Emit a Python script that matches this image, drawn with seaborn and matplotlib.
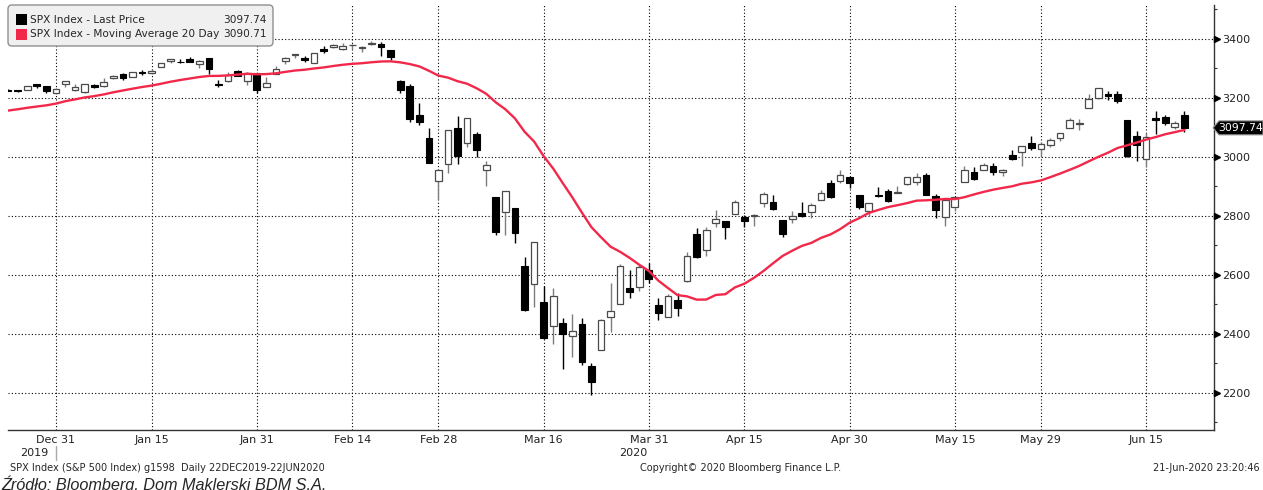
import numpy as np
import pandas as pd
import matplotlib
matplotlib.use("Agg")
import matplotlib.pyplot as plt
import seaborn as sns
from matplotlib.patches import FancyBboxPatch, Polygon, Rectangle
from matplotlib.lines import Line2D
from matplotlib.transforms import Affine2D, offset_copy

# SPX daily candles, 23 Dec 2019 - 19 Jun 2020 (trading days)
opens = [3226.05, 3225.45, 3227.20, 3247.23, 3240.09, 3215.18,
         3244.67, 3226.36, 3217.55, 3241.86, 3238.59, 3266.03, 3280.47, 3271.13, 3285.35, 3282.27, 3302.97,
         3323.66, 3321.03, 3330.02, 3315.77, 3333.10, 3247.16, 3255.35, 3289.46, 3256.45, 3282.33,
         3235.66, 3280.61, 3324.91, 3344.92, 3335.54, 3318.28, 3365.87, 3370.50, 3365.90, 3378.08,
         3369.04, 3380.39, 3380.45, 3360.50, 3257.61, 3238.94, 3139.90, 3062.54, 2916.90,
         2974.28, 3096.46, 3045.75, 3075.70, 2954.20, 2863.89, 2813.48, 2825.60, 2630.86, 2569.99, 2508.59,
         2425.66, 2436.50, 2393.48, 2431.94, 2290.71, 2344.44, 2457.77, 2501.29, 2555.87, 2558.98, 2614.69,
         2498.08, 2458.54, 2514.92, 2578.28, 2738.65, 2685.00, 2776.99, 2782.46, 2805.10, 2795.64, 2799.34,
         2842.43, 2845.62, 2784.81, 2787.89, 2810.42, 2812.64, 2854.65, 2909.96, 2918.46, 2930.91,
         2869.09, 2815.01, 2868.88, 2883.14, 2878.26, 2908.83, 2915.46, 2939.50, 2865.86, 2794.54, 2829.95,
         2913.86, 2948.59, 2953.63, 2969.95, 2948.05, 3004.08, 3015.65, 3046.61, 3025.17,
         3038.78, 3064.78, 3098.90, 3111.56, 3163.84, 3199.92, 3213.32, 3213.42, 3123.53, 3071.04, 2993.76,
         3131.00, 3136.13, 3101.64, 3140.29]
highs = [3227.78, 3226.43, 3240.08, 3247.93, 3240.92, 3231.72,
         3258.14, 3246.15, 3246.84, 3244.91, 3267.07, 3275.58, 3282.99, 3288.13, 3294.25, 3298.66, 3317.11,
         3329.88, 3329.79, 3337.77, 3326.88, 3333.18, 3258.85, 3285.78, 3293.47, 3285.91, 3282.33,
         3268.44, 3306.92, 3337.58, 3347.96, 3341.42, 3352.26, 3375.63, 3381.47, 3385.09, 3380.69,
         3375.01, 3393.52, 3389.15, 3360.76, 3259.81, 3246.99, 3182.51, 3097.07, 2959.72,
         3090.96, 3136.72, 3130.97, 3083.04, 2985.93, 2863.89, 2882.59, 2825.60, 2660.95, 2711.33, 2562.98,
         2553.93, 2453.57, 2466.97, 2453.01, 2300.73, 2449.71, 2571.42, 2637.01, 2615.91, 2631.80, 2641.39,
         2522.75, 2533.22, 2538.18, 2676.85, 2756.89, 2760.75, 2818.57, 2782.46, 2851.85, 2801.88, 2806.51,
         2879.22, 2868.98, 2785.54, 2815.10, 2844.90, 2842.71, 2887.72, 2921.15, 2954.86, 2930.91,
         2869.09, 2844.24, 2898.23, 2891.11, 2901.92, 2932.16, 2944.25, 2945.82, 2874.14, 2852.80, 2865.01,
         2968.09, 2964.21, 2980.29, 2978.50, 2956.76, 3021.72, 3036.25, 3068.67, 3049.17,
         3062.18, 3081.07, 3130.94, 3128.91, 3211.72, 3233.13, 3222.71, 3223.27, 3123.53, 3088.42, 3079.76,
         3153.45, 3141.16, 3120.00, 3155.53]
lows = [3222.30, 3220.51, 3227.20, 3234.37, 3216.57, 3212.03,
        3235.53, 3222.34, 3214.64, 3232.43, 3236.67, 3263.67, 3260.86, 3268.43, 3277.19, 3280.69, 3302.82,
        3318.86, 3316.61, 3320.04, 3301.87, 3281.53, 3234.50, 3253.22, 3271.89, 3242.80, 3214.68,
        3235.66, 3280.61, 3313.75, 3334.39, 3322.12, 3317.77, 3352.72, 3369.72, 3360.52, 3366.15,
        3355.61, 3378.83, 3341.02, 3328.45, 3214.65, 3118.77, 3108.99, 2977.39, 2855.84,
        2945.19, 2976.63, 3034.38, 2999.83, 2901.54, 2734.43, 2734.00, 2707.22, 2478.86, 2492.37, 2380.94,
        2367.04, 2280.52, 2319.78, 2295.56, 2191.86, 2344.44, 2407.53, 2500.72, 2520.02, 2545.28, 2571.15,
        2447.49, 2455.79, 2459.96, 2574.57, 2657.67, 2663.30, 2762.36, 2721.17, 2805.10, 2761.54, 2764.32,
        2830.88, 2820.43, 2727.10, 2775.95, 2794.26, 2791.76, 2852.89, 2860.71, 2912.16, 2892.47,
        2821.61, 2797.85, 2863.55, 2847.65, 2876.48, 2902.88, 2903.44, 2869.59, 2793.15, 2766.64, 2816.78,
        2913.86, 2922.35, 2953.63, 2938.57, 2933.59, 2988.17, 2969.75, 3023.40, 2998.61,
        3031.54, 3051.64, 3098.90, 3090.41, 3163.84, 3196.00, 3193.11, 3181.49, 2999.49, 2984.47, 2965.66,
        3076.06, 3108.03, 3093.51, 3083.11]
closes = [3224.01, 3223.38, 3239.91, 3240.02, 3221.29, 3230.78,
          3257.85, 3234.85, 3246.28, 3237.18, 3253.05, 3274.70, 3265.35, 3288.13, 3283.15, 3289.29, 3316.81,
          3329.62, 3320.79, 3321.75, 3325.54, 3295.47, 3243.63, 3276.24, 3273.40, 3283.66, 3225.52,
          3248.92, 3297.59, 3334.69, 3345.78, 3327.71, 3352.09, 3357.75, 3379.45, 3373.94, 3380.16,
          3370.29, 3386.15, 3373.23, 3337.75, 3225.89, 3128.21, 3116.39, 2978.76, 2954.22,
          3090.23, 3003.37, 3130.12, 3023.94, 2972.37, 2746.56, 2882.23, 2741.38, 2480.64, 2711.02, 2386.13,
          2529.19, 2398.10, 2409.39, 2304.92, 2237.40, 2447.33, 2475.56, 2630.07, 2541.47, 2626.65, 2584.59,
          2470.50, 2526.90, 2488.65, 2663.68, 2659.41, 2749.98, 2789.82, 2761.63, 2846.06, 2783.36, 2799.55,
          2874.56, 2823.16, 2736.56, 2799.31, 2797.80, 2836.74, 2878.48, 2863.39, 2939.51, 2912.43,
          2830.71, 2842.74, 2868.44, 2848.42, 2881.19, 2929.80, 2930.32, 2870.12, 2820.00, 2852.50, 2863.70,
          2953.91, 2922.94, 2971.61, 2948.51, 2955.45, 2991.77, 3036.13, 3029.73, 3044.31,
          3055.73, 3080.82, 3122.87, 3112.35, 3193.93, 3232.39, 3207.18, 3190.14, 3002.10, 3041.31, 3066.59,
          3124.74, 3113.49, 3115.34, 3097.74]
ma20 = [3156.26, 3160.74, 3165.71, 3170.03, 3174.05, 3179.89,
        3188.13, 3194.23, 3200.67, 3205.24, 3211.09, 3218.20, 3224.39, 3230.36, 3236.08, 3240.97, 3247.19,
        3254.11, 3259.88, 3264.91, 3269.99, 3273.59, 3273.78, 3275.59, 3278.19, 3280.84, 3279.22,
        3279.92, 3282.49, 3287.37, 3292.00, 3294.65, 3298.99, 3302.47, 3307.29, 3311.52, 3314.69,
        3316.72, 3319.99, 3322.56, 3323.17, 3319.69, 3313.92, 3305.93, 3291.20, 3274.72,
        3267.96, 3255.68, 3247.31, 3231.77, 3213.10, 3184.04, 3160.55, 3129.73, 3084.79, 3051.65, 3001.94,
        2959.89, 2910.49, 2862.29, 2810.65, 2761.23, 2727.18, 2695.14, 2677.71, 2657.07, 2633.89, 2612.95,
        2579.97, 2555.12, 2530.93, 2526.79, 2515.65, 2516.08, 2531.54, 2534.07, 2557.07, 2569.77, 2589.85,
        2613.10, 2639.02, 2663.97, 2681.57, 2697.69, 2708.02, 2724.87, 2736.71, 2754.45, 2776.55,
        2791.74, 2809.44, 2819.68, 2829.13, 2835.69, 2842.69, 2851.13, 2852.33, 2854.16, 2856.81, 2856.27,
        2862.80, 2872.12, 2880.74, 2888.27, 2894.21, 2899.87, 2908.51, 2913.02, 2919.62,
        2930.87, 2942.77, 2955.49, 2968.69, 2984.33, 2999.45, 3013.30, 3029.30, 3038.40, 3047.84, 3057.99,
        3066.53, 3076.06, 3083.24, 3090.71]

tick_pos = [5, 15, 26, 36, 45, 56, 67, 77, 88, 99, 108, 119]
tick_labels = ["Dec 31", "Jan 15", "Jan 31", "Feb 14", "Feb 28", "Mar 16",
               "Mar 31", "Apr 15", "Apr 30", "May 15", "May 29", "Jun 15"]
minor_pos = [10, 20, 31, 40, 51, 61, 73, 82, 94, 104, 114, 124]
y_major = [2200, 2400, 2600, 2800, 3000, 3200, 3400]
y_minor = [2100, 2300, 2500, 2700, 2900, 3100, 3300, 3500]

RED = "#f2284b"
W, H = 1263, 490

sns.set_style("white")
plt.rcParams["font.family"] = ["DejaVu Sans"]

fig = plt.figure(figsize=(W / 100, H / 100), dpi=100)
ax = fig.add_axes([8 / W, 1 - 430 / H, 1206 / W, 425 / H])
pix = Affine2D().scale(1, -1).translate(0, H)  # pixel coords, origin top-left

df = pd.DataFrame({"day": np.arange(len(closes)), "open": opens, "high": highs,
                   "low": lows, "close": closes, "ma": ma20})
df["up"] = df["close"] >= df["open"]
df["bottom"] = df[["open", "close"]].min(axis=1)
df["body"] = (df["close"] - df["open"]).abs().clip(lower=1.5)

dn = df[~df["up"]]
upd = df[df["up"]]
ax.vlines(dn["day"], dn["low"], dn["high"], color="black", lw=1, zorder=2)
ax.vlines(upd["day"], upd["low"], upd["high"], color="#7d7d7d", lw=1, zorder=2)
ax.bar(dn["day"], dn["body"], bottom=dn["bottom"], width=0.7, color="black",
       edgecolor="black", lw=0.8, zorder=3)
ax.bar(upd["day"], upd["body"], bottom=upd["bottom"], width=0.7, color="white",
       edgecolor="#4a4a4a", lw=0.9, zorder=3)

sns.lineplot(data=df, x="day", y="ma", color=RED, lw=1.7, ax=ax, zorder=4)

ax.set_xlim(-0.01, 126.1)
ax.set_ylim(2074, 3514)
ax.set_xlabel("")
ax.set_ylabel("")

ax.set_xticks(tick_pos)
ax.set_xticklabels(tick_labels)
ax.set_xticks(minor_pos, minor=True)
ax.set_yticks(y_major)
ax.set_yticks(y_minor, minor=True)
ax.yaxis.tick_right()
ax.tick_params(axis="x", which="major", length=0, pad=3.5, labelsize=8, labelcolor="#222222")
ax.tick_params(axis="x", which="minor", length=2.5, width=0.8, direction="in", color="#333333")
ax.tick_params(axis="y", which="major", length=0, pad=6, labelsize=8, labelcolor="#222222")
ax.tick_params(axis="y", which="minor", length=2.5, width=0.8, direction="out", color="#333333")

ax.grid(True, which="major", color="black", lw=0.8, ls=(0, (1, 2)))
ax.set_axisbelow(True)
for side in ("left", "top"):
    ax.spines[side].set_visible(False)
for side in ("bottom", "right"):
    ax.spines[side].set_color("#333333")
    ax.spines[side].set_linewidth(1)

# arrow-head markers on the major price ticks
tri = offset_copy(ax.get_yaxis_transform(), fig=fig, x=3, y=0, units="dots")
ax.plot([1.0] * len(y_major), y_major, ls="none", marker=">", ms=4.2, color="black",
        transform=tri, clip_on=False, zorder=5)

# last price tag
y_last = H - ax.transData.transform((0, closes[-1]))[1]
tag = Polygon([(1213, y_last), (1219, y_last - 7), (1263, y_last - 7), (1263, y_last + 7),
               (1219, y_last + 7)], closed=True, transform=pix, fc="black", ec="#9a9a9a", lw=0.8)
fig.add_artist(tag)
fig.text(1240.5, y_last, f"{closes[-1]:.2f}", transform=pix, color="white", fontsize=7.8,
         ha="center", va="center")

# legend box
fig.add_artist(FancyBboxPatch((8, 5), 265, 41, boxstyle="round,pad=0,rounding_size=4",
                              transform=pix, fc="#f0f0f0", ec="#8f8f8f", lw=1))
fig.add_artist(Rectangle((16, 14), 11, 11, transform=pix, fc="black", ec="none"))
fig.add_artist(Rectangle((16, 28.5), 11, 11, transform=pix, fc=RED, ec="none"))
fig.text(30, 19.5, "SPX Index - Last Price", transform=pix, fontsize=7.6, va="center")
fig.text(30, 34, "SPX Index - Moving Average 20 Day", transform=pix, fontsize=7.6, va="center")
fig.text(267, 19.5, f"{closes[-1]:.2f}", transform=pix, fontsize=7.6, va="center", ha="right")
fig.text(267, 34, f"{ma20[-1]:.2f}", transform=pix, fontsize=7.6, va="center", ha="right")

# year labels under the date axis
fig.text(48, 453, "2019", transform=pix, fontsize=8, ha="right", va="center", color="#222222")
fig.add_artist(Line2D([56, 56], [446, 460], transform=pix, color="#aaaaaa", lw=1))
fig.text(647, 453, "2020", transform=pix, fontsize=8, ha="right", va="center", color="#222222")

# footer
fig.text(10, 468, "SPX Index (S&P 500 Index) g1598  Daily 22DEC2019-22JUN2020", transform=pix,
         fontsize=7, va="center")
fig.text(640, 468, "Copyright\u00a9 2020 Bloomberg Finance L.P.", transform=pix, fontsize=7, va="center")
fig.text(1260, 468, "21-Jun-2020 23:20:46", transform=pix, fontsize=7, va="center", ha="right")
fig.text(1, 475, "Źródło: Bloomberg, Dom Maklerski BDM S.A.", transform=pix,
         family="Liberation Sans", style="italic", fontsize=11.7, va="top")

fig.savefig("out.png", dpi=100)
